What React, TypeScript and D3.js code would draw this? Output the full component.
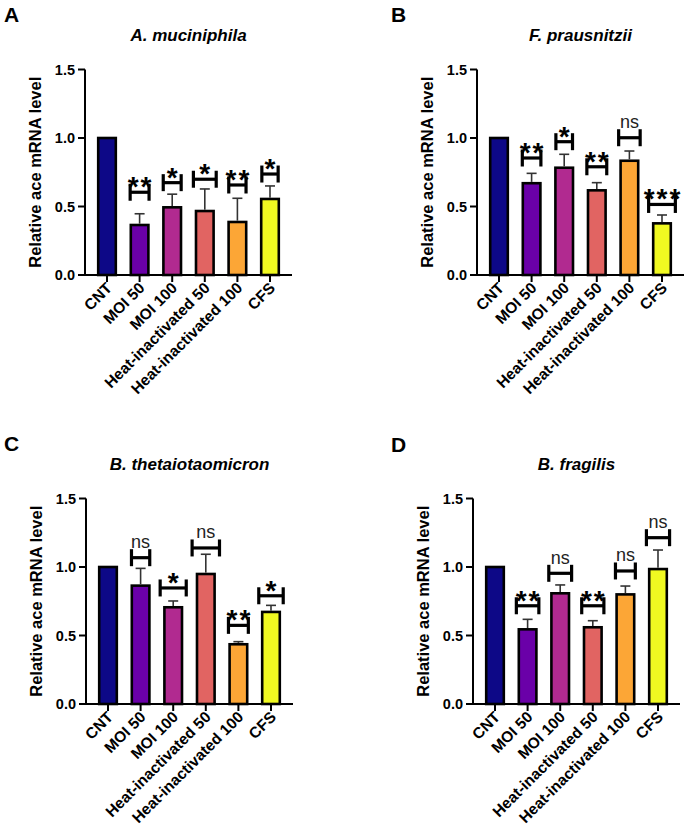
import React from "react";
import * as d3 from "d3";

const categories = ["CNT", "MOI 50", "MOI 100", "Heat-inactivated 50", "Heat-inactivated 100", "CFS"];
const yTicks = [0, 0.5, 1.0, 1.5];

const letters = ["A", "B", "C", "D"];
const titles = ["A. muciniphila", "F. prausnitzii", "B. thetaiotaomicron", "B. fragilis"];

const meanA = [1.0, 0.365, 0.494, 0.467, 0.387, 0.555];
const errTopA = [1.0, 0.447, 0.59, 0.628, 0.56, 0.65];
const sigA = ["", "**", "*", "*", "**", "*"];
const sigYA = [0, 0.604, 0.674, 0.699, 0.657, 0.737];
const sigSpanA = [0, 0.58, 0.55, 0.7, 0.53, 0.5];

const meanB = [1.0, 0.67, 0.783, 0.618, 0.834, 0.377];
const errTopB = [1.0, 0.742, 0.881, 0.674, 0.905, 0.438];
const sigB = ["", "**", "*", "**", "ns", "***"];
const sigYB = [0, 0.854, 0.973, 0.79, 1.002, 0.515];
const sigSpanB = [0, 0.57, 0.51, 0.61, 0.66, 0.82];

const meanC = [1.0, 0.864, 0.706, 0.949, 0.436, 0.672];
const errTopC = [1.0, 0.99, 0.752, 1.093, 0.455, 0.72];
const sigC = ["", "ns", "*", "ns", "**", "*"];
const sigYC = [0, 1.068, 0.847, 1.139, 0.574, 0.79];
const sigSpanC = [0, 0.56, 0.8, 0.84, 0.61, 0.75];

const meanD = [1.0, 0.545, 0.808, 0.56, 0.8, 0.985];
const errTopD = [1.0, 0.618, 0.869, 0.608, 0.861, 1.124];
const sigD = ["", "**", "ns", "**", "ns", "ns"];
const sigYD = [0, 0.717, 0.954, 0.717, 0.971, 1.214];
const sigSpanD = [0, 0.69, 0.7, 0.68, 0.61, 0.71];

const FONT = "Arial, 'Liberation Sans', Helvetica, sans-serif";

type PanelProps = {
  letter: string;
  title: string;
  ox: number;
  oy: number;
  lx: number;
  ly: number;
  mean: number[];
  errTop: number[];
  sig: string[];
  sigY: number[];
  sigSpan: number[];
};

function Panel({ letter, title, ox, oy, lx, ly, mean, errTop, sig, sigY, sigSpan }: PanelProps) {
  const axisW = 207;
  const y = d3.scaleLinear().domain([0, 1.5]).range([oy, oy - 205.5]);
  const x = d3.scalePoint<string>().domain(categories).range([ox, ox + axisW]).padding(0.675);
  const step = x.step();
  const barW = step * 0.54;
  const colors = categories.map((_, i) => d3.interpolatePlasma(i / (categories.length - 1)));
  const hH = 17;

  return (
    <g fontFamily={FONT}>
      <text x={lx} y={ly} fontSize={21} fontWeight="bold">{letter}</text>
      <text x={ox + axisW / 2} y={oy - 234} textAnchor="middle" fontSize={17} fontWeight="bold" fontStyle="italic">
        {title}
      </text>
      {/* y axis label */}
      <text
        transform={`translate(${ox - 44},${(y(0) + y(1.5)) / 2}) rotate(-90)`}
        textAnchor="middle"
        fontSize={16.5}
        fontWeight="bold"
      >
        Relative ace mRNA level
      </text>
      {/* bars */}
      {categories.map((c, i) => (
        <rect
          key={"b" + i}
          x={(x(c) as number) - barW / 2}
          y={y(mean[i])}
          width={barW}
          height={y(0) - y(mean[i])}
          fill={colors[i]}
          stroke="#000"
          strokeWidth={2.6}
        />
      ))}
      {/* error bars */}
      {categories.map((c, i) =>
        errTop[i] > mean[i] ? (
          <g key={"e" + i} stroke="#333" strokeWidth={1.6}>
            <line x1={x(c)} x2={x(c)} y1={y(mean[i]) - 1.3} y2={y(errTop[i])} />
            <line x1={(x(c) as number) - 5} x2={(x(c) as number) + 5} y1={y(errTop[i])} y2={y(errTop[i])} />
          </g>
        ) : null
      )}
      {/* significance brackets */}
      {categories.map((c, i) => {
        if (!sig[i]) return null;
        const cx = x(c) as number;
        const cy = y(sigY[i]);
        const hw = (sigSpan[i] * step) / 2;
        const top = cy - hH / 2;
        const isNs = sig[i] === "ns";
        return (
          <g key={"s" + i}>
            <g stroke="#000" strokeWidth={3.2}>
              <line x1={cx - hw} x2={cx - hw} y1={top} y2={top + hH} />
              <line x1={cx + hw} x2={cx + hw} y1={top} y2={top + hH} />
              <line x1={cx - hw} x2={cx + hw} y1={cy} y2={cy} />
            </g>
            {isNs ? (
              <text x={cx} y={top - 1} textAnchor="middle" fontSize={18} fill="#222">
                ns
              </text>
            ) : (
              <text x={cx + 1} y={top + 12.5} textAnchor="middle" fontSize={28} fontWeight="bold" letterSpacing={2}>
                {sig[i]}
              </text>
            )}
          </g>
        );
      })}
      {/* y axis */}
      <g stroke="#000" strokeWidth={2}>
        <line x1={ox} x2={ox} y1={y(0) + 1} y2={y(1.5)} />
        {yTicks.map((t) => (
          <line key={"yt" + t} x1={ox - 7} x2={ox} y1={y(t)} y2={y(t)} />
        ))}
      </g>
      {yTicks.map((t) => (
        <text key={"yl" + t} x={ox - 10} y={y(t)} dy="0.36em" textAnchor="end" fontSize={14.5} fontWeight="bold">
          {d3.format(".1f")(t)}
        </text>
      ))}
      {/* x axis */}
      <g stroke="#000" strokeWidth={2}>
        <line x1={ox - 1} x2={ox + axisW} y1={y(0)} y2={y(0)} />
        {categories.map((c) => (
          <line key={"xt" + c} x1={x(c)} x2={x(c)} y1={y(0)} y2={y(0) + 7} />
        ))}
      </g>
      {categories.map((c) => (
        <text
          key={"xl" + c}
          transform={`translate(${(x(c) as number) + 6},${y(0) + 14}) rotate(-45)`}
          textAnchor="end"
          fontSize={15.5}
          fontWeight="bold"
        >
          {c}
        </text>
      ))}
    </g>
  );
}

export default function App() {
  const panels = [
    { ox: 85, oy: 275, lx: 4, ly: 22, mean: meanA, errTop: errTopA, sig: sigA, sigY: sigYA, sigSpan: sigSpanA },
    { ox: 477, oy: 275, lx: 391, ly: 22, mean: meanB, errTop: errTopB, sig: sigB, sigY: sigYB, sigSpan: sigSpanB },
    { ox: 86, oy: 704, lx: 4, ly: 451, mean: meanC, errTop: errTopC, sig: sigC, sigY: sigYC, sigSpan: sigSpanC },
    { ox: 473, oy: 704, lx: 391, ly: 452, mean: meanD, errTop: errTopD, sig: sigD, sigY: sigYD, sigSpan: sigSpanD },
  ];
  return (
    <svg width={688} height={840} style={{ position: "absolute", left: 0, top: 0, background: "#fff" }}>
      <rect width={688} height={840} fill="#fff" />
      {panels.map((p, i) => (
        <Panel key={i} letter={letters[i]} title={titles[i]} {...p} />
      ))}
    </svg>
  );
}
